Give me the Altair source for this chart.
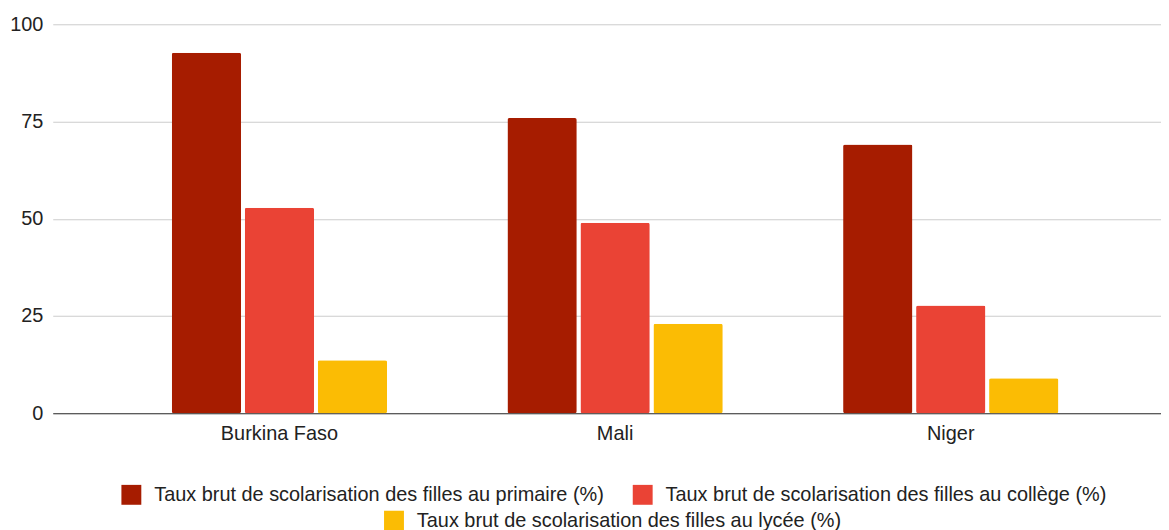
import altair as alt
import pandas as pd

countries = ["Burkina Faso", "Mali", "Niger"]
levels = [
    "Taux brut de scolarisation des filles au primaire (%)",
    "Taux brut de scolarisation des filles au collège (%)",
    "Taux brut de scolarisation des filles au lycée (%)",
]
primaire = [92.7, 75.9, 69.1]
college = [52.8, 49.0, 27.7]
lycee = [13.6, 23.0, 9.0]
colors = ["#A61C00", "#EA4335", "#FBBC04"]

rows = []
for i, c in enumerate(countries):
    for lvl, vals in zip(levels, [primaire, college, lycee]):
        rows.append({"pays": c, "niveau": lvl, "valeur": vals[i]})
df = pd.DataFrame(rows)

FONT = "Liberation Sans"

x_enc = alt.X(
    "pays:N",
    sort=countries,
    title=None,
    scale=alt.Scale(paddingInner=0.3585, paddingOuter=0.33, align=0.537),
    axis=alt.Axis(
        labelAngle=0, labelFontSize=20, labelFont=FONT, labelColor="#222222",
        ticks=False, domainColor="#333333", domainWidth=1, labelPadding=10,
        grid=False,
    ),
)
xo_enc = alt.XOffset(
    "niveau:N", sort=levels,
    scale=alt.Scale(domain=levels, paddingInner=0.05, paddingOuter=0),
)
y_enc = alt.Y(
    "valeur:Q",
    title=None,
    scale=alt.Scale(domain=[0, 100], nice=False),
    axis=alt.Axis(
        values=[0, 25, 50, 75, 100], labelFontSize=20, labelFont=FONT,
        labelColor="#222222", ticks=False, domain=False, labelPadding=10,
        gridColor="#CCCCCC", gridWidth=1,
    ),
)

base = alt.Chart(df)

layer1 = base.transform_filter(
    alt.FieldOneOfPredicate(field="niveau", oneOf=levels[:2])
).mark_bar(cornerRadius=2).encode(
    x=x_enc, xOffset=xo_enc, y=y_enc,
    fill=alt.Fill(
        "niveau:N",
        scale=alt.Scale(domain=levels[:2], range=colors[:2]),
        legend=alt.Legend(
            title=None, orient="none", direction="horizontal",
            legendX=69, legendY=463, symbolType="square", symbolSize=400,
            symbolStrokeWidth=0, labelFontSize=20, labelFont=FONT,
            labelColor="#222222", labelOffset=13, columnPadding=28,
            labelLimit=0, columns=2,
        ),
    ),
)

layer2 = base.transform_filter(
    alt.FieldEqualPredicate(field="niveau", equal=levels[2])
).mark_bar(cornerRadius=2).encode(
    x=x_enc, xOffset=xo_enc, y=y_enc,
    fill=alt.Fill(
        "niveau:N",
        scale=alt.Scale(domain=levels[2:], range=colors[2:]),
        legend=alt.Legend(
            title=None, orient="none", direction="horizontal",
            legendX=333, legendY=489, symbolType="square", symbolSize=400,
            symbolStrokeWidth=0, labelFontSize=20, labelFont=FONT,
            labelColor="#222222", labelOffset=13, labelLimit=0,
        ),
    ),
)

chart = alt.layer(layer1, layer2).resolve_scale(
    fill="independent"
).resolve_legend(fill="independent").properties(
    width=1114,
    height=391,
    autosize=alt.AutoSizeParams(type="none"),
    padding={"left": 45, "top": 15, "right": 0, "bottom": 116},
    background="white",
).configure_view(stroke=None)

chart.save("out.html", embed_options={"renderer": "svg", "actions": False})
